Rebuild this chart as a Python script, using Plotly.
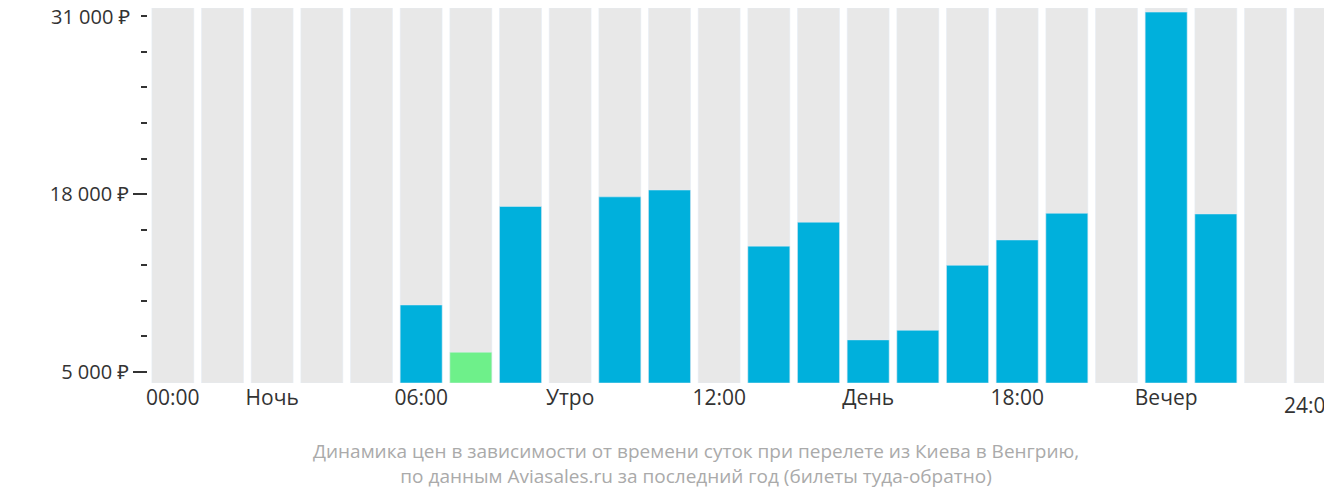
import plotly.graph_objects as go

hours = list(range(24))
prices = [None, None, None, None, None, 9900, 6450, 17100, None, 17800, 18300, None,
          14200, 15950, 7350, 8050, 12800, 14650, 16600, None, 31300, 16550, None, None]
cheapest_hour = 6
tick_pos = [0, 2, 5, 8, 11, 14, 17, 20, 23]
tick_text = ["00:00", "Ночь", "06:00", "Утро", "12:00", "День", "18:00", "Вечер", "24:00"]
y_ticks = [5000, 18000, 31000]
y_labels = ["5 000 ₽", "18 000 ₽", "31 000 ₽"]

y_lo, y_hi = 4200, 31600
font = "Open Sans, Noto Sans, sans-serif"

fig = go.Figure()
fig.add_trace(go.Bar(
    x=hours, y=[y_hi - y_lo] * 24, base=y_lo, width=0.845,
    marker_color="#e8e8e8", hoverinfo="skip", showlegend=False
))
bx = [h for h, p in zip(hours, prices) if p is not None]
by = [p - y_lo for p in prices if p is not None]
colors = ["#6ef08a" if h == cheapest_hour else "#00b0dc" for h in bx]
fig.add_trace(go.Bar(
    x=bx, y=by, base=y_lo, width=0.845,
    marker_color=colors, showlegend=False
))

fig.update_layout(
    width=1332, height=502, barmode="overlay",
    margin=dict(l=140, r=0, t=0, b=127),
    paper_bgcolor="white", plot_bgcolor="white",
    font=dict(family=font, size=20, color="#333"),
)
fig.update_xaxes(range=[-0.5, 23.5], tickvals=tick_pos[:-1], ticktext=tick_text[:-1],
                 automargin=False, showgrid=False, zeroline=False, ticks="",
                 tickfont=dict(size=21, color="#333"))
fig.update_yaxes(range=[y_lo, y_hi], tickvals=y_ticks[:-1], ticktext=y_labels[:-1],
                 automargin=False, showgrid=False, zeroline=False, ticks="outside", ticklen=14,
                 tickcolor="#333", tickwidth=2, tickfont=dict(size=20, color="#333"),
                 minor=dict(tickvals=[5000 + 2600 * i for i in range(11)],
                            ticks="outside", ticklen=6, tickcolor="#333", tickwidth=2))
# edge labels that plotly would clip
fig.add_annotation(text=tick_text[-1], xref="paper", yref="paper", x=1.0, y=-0.015,
                   xanchor="right", yanchor="top", showarrow=False,
                   font=dict(size=21, color="#333"))
fig.add_annotation(text=y_labels[-1], xref="paper", yref="y", x=0, y=y_ticks[-1],
                   xshift=-16, xanchor="right", yanchor="middle", showarrow=False,
                   font=dict(size=20, color="#333"))
fig.add_annotation(
    text="Динамика цен в зависимости от времени суток при перелете из Киева в Венгрию,<br>"
         "по данным Aviasales.ru за последний год (билеты туда-обратно)",
    xref="paper", yref="paper", x=0.46, y=-0.14, xanchor="center", yanchor="top",
    showarrow=False, font=dict(size=19, color="#aaa"), align="center"
)
fig.write_html("out.html")
